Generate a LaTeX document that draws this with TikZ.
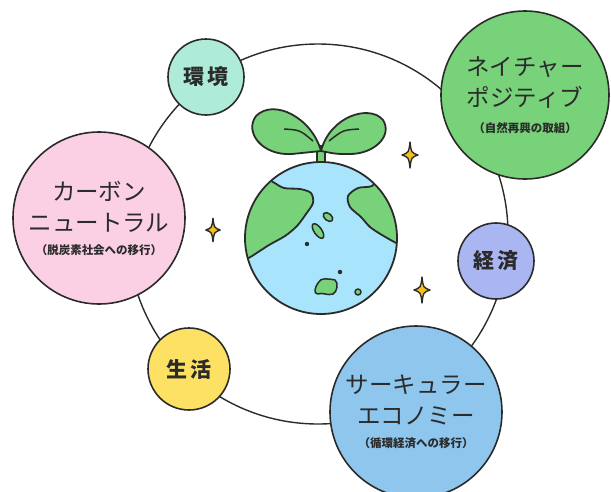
\documentclass[tikz,border=0pt]{standalone}
\usepackage{fontspec}
\setmainfont{Noto Sans CJK JP}
\usepackage{xcolor}
\usepackage{tikz}

\definecolor{pinkfill}{HTML}{FBD0E4}
\definecolor{leafgreen}{HTML}{77D27A}
\definecolor{skyfill}{HTML}{8EC6EE}
\definecolor{lavender}{HTML}{AAB6F2}
\definecolor{sunyellow}{HTML}{FCE165}
\definecolor{mintfill}{HTML}{AEEBD8}
\definecolor{ocean}{HTML}{A8E4FB}
\definecolor{starfill}{HTML}{F5C21B}
\definecolor{ink}{HTML}{2B2B2B}

\tikzset{
  topic/.style={circle,draw=ink,line width=1.6pt,inner sep=0pt,align=center,text=ink},
  word/.style={topic,font=\fontsize{21}{22}\selectfont\bfseries},
  bigtopic/.style={topic,font=\fontsize{23.5}{31}\selectfont},
  outline/.style={draw=ink,line width=1.8pt,line join=round},
  sparkle/.pic={
    \draw[line width=1.4pt,draw=ink,fill=starfill,line join=round]
      (0,-13) .. controls (1.2,-2.5) .. (8,0) .. controls (1.2,2.5) .. (0,13)
      .. controls (-1.2,2.5) .. (-8,0) .. controls (-1.2,-2.5) .. cycle;
  }
}
\newcommand{\subline}{\fontsize{11.5}{14}\selectfont\bfseries}

\begin{document}
\begin{tikzpicture}[x=1pt,y=-1pt]
\useasboundingbox (0,0) rectangle (611,491);

% The ring
\coordinate (hub) at (318,234);
\draw[ink,line width=1.4pt] (hub) circle (190);

% The topics
\node[word,fill=mintfill,minimum size=76pt] (env) at (206,77) {環\,境};
\node[word,fill=sunyellow,minimum size=82pt] (life) at (189,369) {生\,活};
\node[word,fill=lavender,minimum size=76pt] (econ) at (496,261) {経\,済};
\node[bigtopic,fill=pinkfill,minimum size=172pt] (carbon) at (99,218)
  {カーボン\\ニュートラル\\[-8pt]{\subline （脱炭素社会への移行）}};
\node[bigtopic,fill=leafgreen,minimum size=168pt] (nature) at (525,95)
  {ネイチャー\\ポジティブ\\[-5pt]{\subline （自然再興の取組）}};
\node[bigtopic,fill=skyfill,minimum size=172pt] (circular) at (416,412)
  {サーキュラー\\エコノミー\\[-8pt]{\subline （循環経済への移行）}};

% The sprout
\coordinate (earth) at (321,238);
\draw[outline,fill=leafgreen] (317,146) rectangle (325,166);
\fill[ocean] (earth) circle (76);
\begin{scope}
  \clip (earth) circle (76);
  \draw[outline,fill=leafgreen] plot[smooth] coordinates {(262,176) (273,182) (284,188)
    (300,189) (311,193) (313,203) (306,214) (297,226) (285,236) (269,245) (252,256) (238,264)}
    -- (225,264) -- (225,170) -- cycle;
  \draw[outline,fill=leafgreen] plot[smooth] coordinates {(380,176) (372,186) (358,188)
    (348,196) (350,207) (361,217) (370,227) (382,235) (398,244) (408,248)}
    -- (410,170) -- cycle;
\end{scope}
\draw[outline] (earth) circle (76);

% The islands
\draw[outline,line width=1.5pt,fill=leafgreen,rotate around={-40:(328,217)}] (328,217) ellipse (5.5 and 3.5);
\draw[outline,line width=1.5pt,fill=leafgreen,rotate around={-55:(318,231)}] (318,231) ellipse (8.5 and 3.8);
\fill[ink] (307,244) circle (2.2);
\draw[outline,line width=1.5pt,fill=leafgreen] (318,283) .. controls (320,277) and (330,279) .. (335,280)
  .. controls (339,283) and (337,292) .. (333,294) .. controls (328,296) and (322,292) .. (318,294)
  .. controls (313,294) and (315,287) .. cycle;
\fill[ink] (340,272) circle (2.2);
\draw[outline,line width=1.5pt,fill=leafgreen] (358,292) circle (3);

% The leaves
\draw[outline,fill=leafgreen] (321,151) .. controls (312,118) and (274,98) .. (256,116)
  .. controls (244,132) and (262,156) .. (292,154) .. controls (306,153) .. (321,151);
\draw[outline,fill=leafgreen] (321,151) .. controls (330,116) and (370,104) .. (383,120)
  .. controls (393,136) and (374,154) .. (350,154) .. controls (336,154) .. (321,151);
\draw[outline,line width=1.5pt] (284,129) .. controls (300,130) .. (313,141);
\draw[outline,line width=1.5pt] (359,129) .. controls (343,130) .. (329,141);

% The sparkles
\pic at (410,155) {sparkle};
\pic at (422,290) {sparkle};
\pic[scale=0.9] at (213,230) {sparkle};
\end{tikzpicture}
\end{document}
